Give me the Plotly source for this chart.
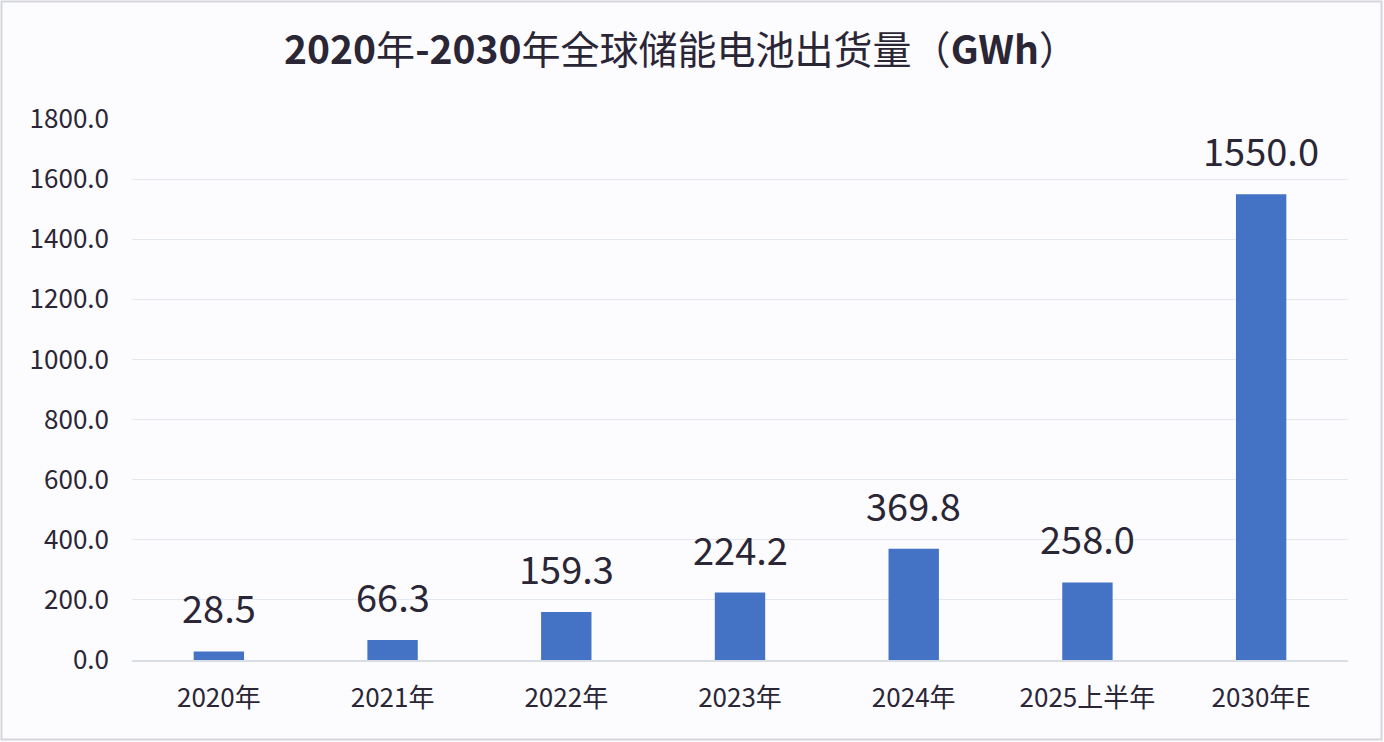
import plotly.graph_objects as go

categories = ["2020年", "2021年", "2022年", "2023年", "2024年", "2025上半年", "2030年E"]
values = [28.5, 66.3, 159.3, 224.2, 369.8, 258.0, 1550.0]
label_texts = ["28.5", "66.3", "159.3", "224.2", "369.8", "258.0", "1550.0"]
y_ticks = [0, 200, 400, 600, 800, 1000, 1200, 1400, 1600, 1800]
y_tick_labels = ["0.0", "200.0", "400.0", "600.0", "800.0", "1000.0", "1200.0", "1400.0", "1600.0", "1800.0"]
title_text = "<b>2020</b>年<b>-2030</b>年全球储能电池出货量（<b>GWh</b>）"

W, H = 1384, 742
ML, MR, MT, MB = 132, 36, 119, 82
font_family = "Noto Sans CJK SC, Noto Sans, sans-serif"
text_color = "#2b2636"

fig = go.Figure()
fig.add_trace(go.Bar(
    x=categories, y=values,
    marker=dict(color="#4472C4", line=dict(width=0)),
    width=0.29,
    hoverinfo="x+y",
))

for c, v, t in zip(categories, values, label_texts):
    fig.add_annotation(x=c, y=v, text=t, showarrow=False, xref="x", yref="y",
                       yanchor="bottom", yshift=15,
                       font=dict(family=font_family, size=38, color=text_color))

pw = W - ML - MR
ph = H - MT - MB
def px_x(p):
    return (p - ML) / pw
def px_y(p):
    return (H - MB - p) / ph

fig.add_shape(type="rect", xref="paper", yref="paper",
              x0=px_x(1.5), x1=px_x(W - 2.5), y0=px_y(H - 2.5), y1=px_y(1.5),
              line=dict(color="#d4d6dc", width=2), fillcolor="rgba(0,0,0,0)", layer="below")

fig.update_layout(
    width=W, height=H,
    margin=dict(l=ML, r=MR, t=MT, b=MB, autoexpand=False),
    paper_bgcolor="#fcfcfe",
    plot_bgcolor="#fcfcfe",
    showlegend=False,
    bargap=0.71,
    title=dict(text=title_text,
               x=681 / W, xref="container", xanchor="center", y=1 - 50 / H, yanchor="middle",
               font=dict(family=font_family, size=39, color=text_color)),
    font=dict(family=font_family, color=text_color),
    xaxis=dict(showgrid=False, showline=True, linecolor="#d9dde4", linewidth=1.5,
               ticks="", tickfont=dict(size=26, color=text_color, family=font_family),
               ticklabelstandoff=14),
    yaxis=dict(range=[0, 1800], tickvals=y_ticks, ticktext=y_tick_labels,
               showgrid=True, gridcolor="#e3e7ee", gridwidth=1.2,
               zeroline=False, showline=False, ticks="",
               tickfont=dict(size=26, color=text_color, family=font_family),
               ticklabelstandoff=22),
)

fig.write_html("out.html", config={"displayModeBar": False},
               post_script="document.body.style.margin='0';document.body.style.overflow='hidden';")
